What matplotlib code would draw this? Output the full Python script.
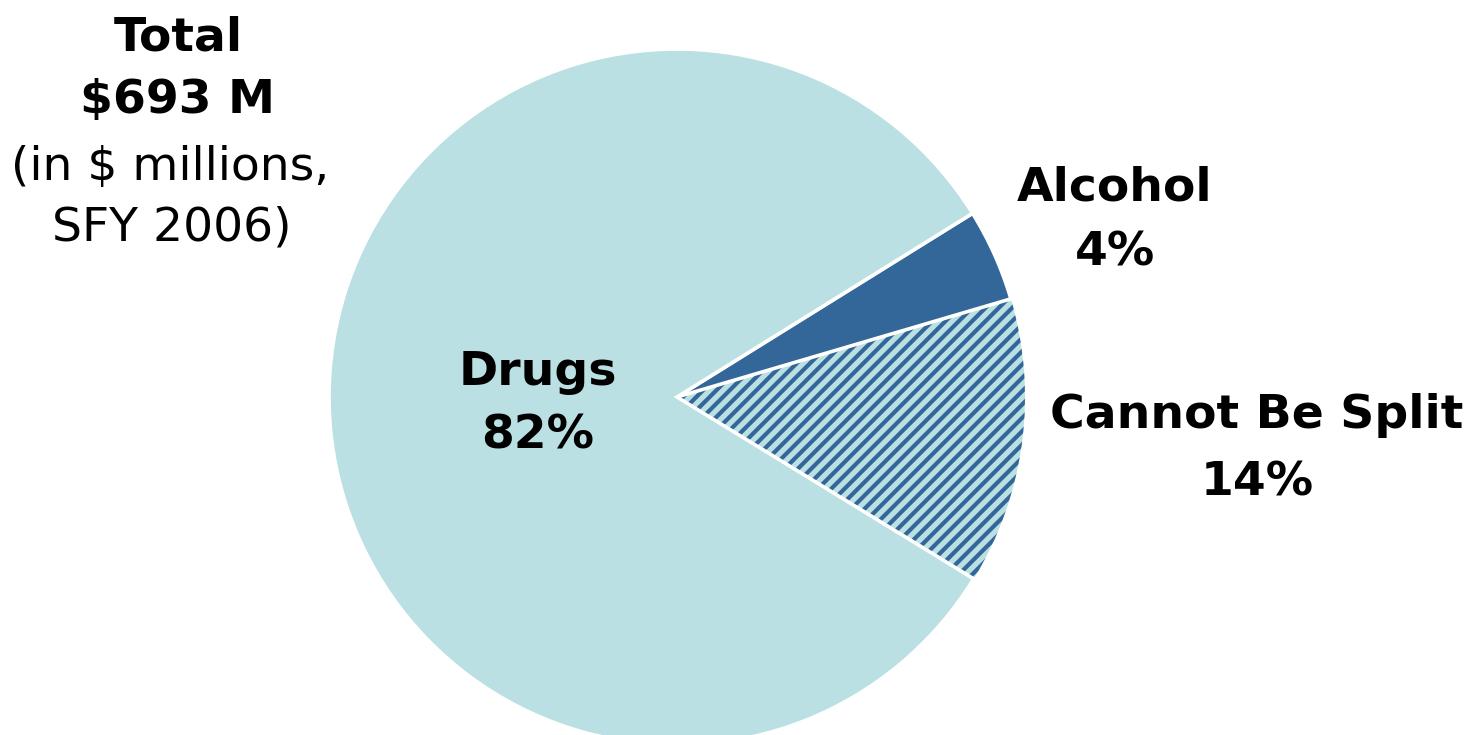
import matplotlib
matplotlib.use("Agg")
import matplotlib.pyplot as plt

# shares, labels as printed on the chart
categories = ["Cannot Be Split", "Alcohol", "Drugs"]
shares = [13.3, 4.3, 82.4]
pct_labels = ["14%", "4%", "82%"]
total_lines = ["Total", "$693 M"]
note_lines = ["(in $ millions,", "SFY 2006)"]

light = "#BAE0E3"
dark = "#336699"

plt.rcParams["font.family"] = ["DejaVu Sans"]
plt.rcParams["hatch.linewidth"] = 1.5

W, H = 1469, 735
fig = plt.figure(figsize=(W / 200, H / 200), dpi=200)
ax = fig.add_axes([0, 0, 1, 1])

wedges, _ = ax.pie(shares, colors=[light, dark, light], startangle=-31.5,
                   center=(677, H - 397), radius=348,
                   wedgeprops=dict(edgecolor="white", linewidth=1.3))
ax.set_xlim(0, W)
ax.set_ylim(0, H)
ax.set_aspect("equal")
ax.axis("off")

# hatched slice: dark diagonal lines on the light fill
wedges[0].set_edgecolor(dark)
wedges[0].set_linewidth(0)
wedges[0].set_hatch("/////")

fs = 17


def label(x, y, s, bold=True):
    # y given from the top of the image, at the text baseline
    ax.text(x, H - y, s, ha="center", va="baseline", fontsize=fs,
            fontweight="bold" if bold else "normal")


label(538, 385, categories[2])
label(538, 448, pct_labels[2])
label(1115, 200, categories[1])
label(1115, 265, pct_labels[1])
label(1257, 428, categories[0])
label(1257, 495, pct_labels[0])

label(178, 50, total_lines[0])
label(178, 113, total_lines[1])
label(170, 180, note_lines[0], bold=False)
label(172, 240, note_lines[1], bold=False)

fig.savefig("out.png", dpi=200, facecolor="white")
